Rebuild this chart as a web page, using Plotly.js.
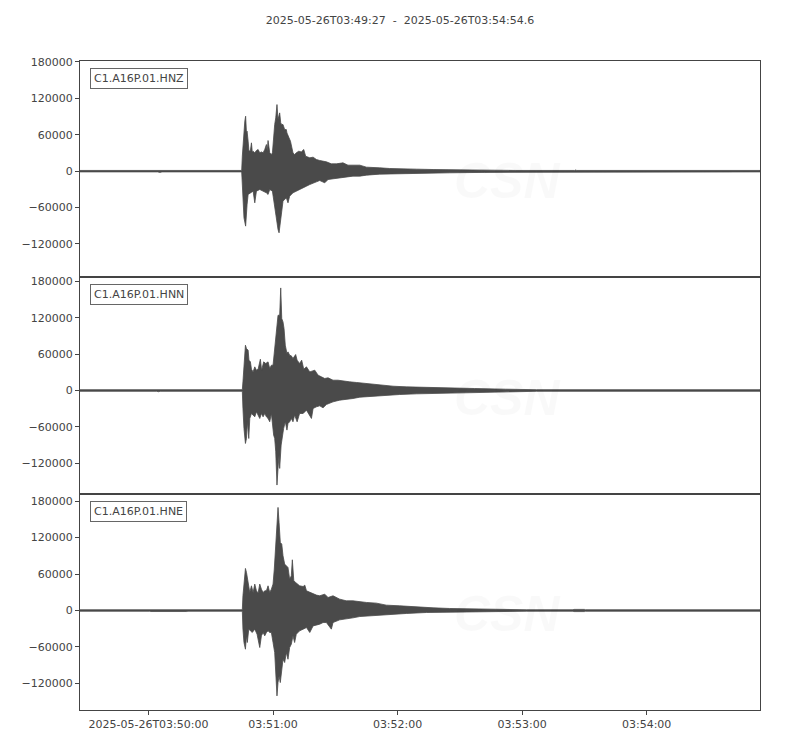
<!DOCTYPE html>
<html>
<head>
<meta charset="utf-8">
<script src="https://cdn.plot.ly/plotly-3.0.1.min.js"></script>
<style>html,body{margin:0;padding:0;background:#fff;}#chart{width:800px;height:750px;}</style>
</head>
<body>
<div id="chart"></div>
<script>
// ---- data (seconds after 2025-05-26T03:49:27, counts) ----
const channels = ['C1.A16P.01.HNZ', 'C1.A16P.01.HNN', 'C1.A16P.01.HNE'];

// HNZ envelope
const zUpT = [0,37.5,38.5,39.5,77.9,78.2,79.0,79.4,79.8,80.2,80.5,81.0,81.4,82.1,82.6,83.0,83.4,84.2,85.0,85.8,86.6,87.4,88.2,89.0,89.8,90.2,90.6,91.4,92.2,92.7,93.3,93.8,94.3,94.9,95.4,95.9,96.2,96.7,97.2,97.8,98.6,99.4,99.7,100.7,101.4,102.6,103.4,104.2,105.4,106.6,107.8,108.7,110.7,112.3,113.9,115.5,117.1,118.7,121.1,123.5,126.7,129.1,131.5,134.8,138.0,141.2,144.4,149.2,154.0,162.1,170.1,178.1,195,210,238.3,238.8,239.3,327.6];
const zUp = [1200,1200,2000,1200,1200,24700,71400,82400,90600,63100,65900,49400,32900,34000,46700,31800,32900,30200,34000,35700,30200,31800,30200,35700,43900,32900,50500,30200,27500,30200,60400,76900,87800,109800,85100,93300,96100,79600,76900,76900,68600,68600,63100,54900,49400,30200,27500,30200,32900,31800,35700,24700,22000,23100,19200,17600,16500,15400,12100,12100,13700,9900,9900,9900,6600,6600,5500,4400,4400,3300,2700,2200,2000,1200,1200,2000,1200,1200];
const zLoT = [0,37.5,38.5,39.5,77.9,78.2,79.0,79.8,80.5,81.0,81.8,83.4,84.2,85.0,86.6,88.2,89.8,90.6,91.4,92.7,93.6,94.6,95.4,95.9,96.5,97.2,97.8,98.6,99.4,100.2,101.0,102.6,104.2,105.8,107.5,109.1,110.7,112.3,113.9,115.5,117.9,119.5,121.9,125.1,128.3,131.5,134.8,138.0,144.4,150.8,157.2,166.9,178.1,195,210,238.3,238.8,239.3,327.6];
const zLo = [-1200,-1200,-2000,-1200,-1200,-32900,-76900,-90600,-54900,-38400,-35700,-32900,-52200,-32900,-30200,-32900,-35700,-38400,-30200,-32900,-54900,-76900,-96100,-101600,-82400,-65900,-49400,-46700,-43900,-52200,-41200,-35700,-32900,-30200,-27500,-24700,-22000,-19200,-17600,-15400,-19200,-13700,-12100,-11000,-9900,-8200,-8200,-6600,-4900,-4400,-3800,-3300,-2700,-2000,-1200,-1200,-2000,-1200,-1200];

// HNN envelope
const nUpT = [0,37.0,37.8,38.6,78.2,78.5,79.0,79.7,80.2,81.0,81.4,82.1,82.6,83.4,84.2,85.0,85.8,86.9,87.5,88.5,89.5,90.6,91.4,92.2,93.0,93.8,94.3,94.9,95.4,96.2,96.7,97.2,97.8,98.3,98.9,99.7,100.2,101.0,101.8,102.6,103.9,104.6,105.8,106.8,107.8,109.1,110.7,113.1,114.7,116.3,117.9,119.5,121.9,124.3,126.7,129.9,133.2,138.0,144.4,150.8,157.2,166.9,178.1,190,205,220,327.6];
const nUp = [1300,1300,2000,1300,1300,14300,41700,74700,69200,66400,50000,47200,35100,30700,39000,33500,35100,51600,33500,47200,44500,47200,36200,41700,41700,69200,96600,107600,124100,124100,169100,118600,113100,102100,74700,60900,63700,58200,57100,52700,59300,50000,44500,50000,35100,39000,30700,33500,25300,22500,19800,20900,17000,17000,15400,14300,13200,11500,8800,7100,6000,4900,4400,3300,2200,1300,1300];
const nLoT = [0,37.0,37.8,38.6,78.2,78.5,79.0,79.7,80.2,80.6,81.3,81.8,82.6,83.4,84.2,85.0,85.8,86.6,87.4,88.2,89.0,89.8,90.6,91.4,92.2,93.3,93.8,94.3,94.9,95.4,95.9,96.2,96.9,97.5,98.1,98.9,99.7,100.2,101.0,101.8,102.6,103.4,104.6,105.8,107.5,109.1,111.5,112.3,113.9,115.5,117.1,118.7,120.3,121.9,125.1,128.3,131.5,134.8,141.2,147.6,154.0,162.1,170.1,178.1,190,205,220,327.6];
const nLo = [-1300,-1300,-2000,-1300,-1300,-29600,-62600,-87300,-79100,-51600,-79100,-46100,-37900,-40600,-43400,-35100,-40600,-46100,-37900,-43400,-37900,-43400,-46100,-51600,-37900,-73600,-79100,-101000,-155900,-128500,-106500,-128500,-90000,-73600,-62600,-51600,-65300,-54400,-51600,-46100,-51600,-40600,-51600,-37900,-37900,-32400,-46100,-29600,-26900,-25300,-28500,-23100,-21400,-18700,-15900,-14300,-13200,-11000,-8800,-7700,-6600,-5500,-4400,-3800,-3000,-2200,-1300,-1300];

// HNE envelope
const eUpT = [0,33.5,34.0,51.4,52.0,78.2,78.5,79.0,79.7,80.2,80.6,81.3,81.8,82.6,83.4,84.2,85.0,85.8,86.6,87.4,88.2,89.0,89.8,90.6,91.4,92.2,93.0,93.6,94.3,94.9,95.4,95.9,96.5,97.2,97.8,98.6,99.4,100.2,101.0,101.8,102.3,103.0,103.9,105.0,105.8,107.5,108.3,109.1,110.7,112.3,113.9,115.5,117.9,119.5,121.9,125.1,128.3,131.5,134.8,138.0,142.8,147.6,154.0,162.1,170.1,178.1,190,200,215,237.5,238.0,243.0,243.5,327.6];
const eUp = [1200,1200,1700,1700,1200,1200,24200,46100,69200,62600,54400,40600,29600,40600,29600,43400,32400,28500,43400,35100,29600,32400,32400,40600,29600,35100,43400,68100,106500,123000,169600,144900,112000,109200,90000,76300,73600,70800,51600,57100,83400,48900,46100,43400,40600,39500,41700,32400,29600,26900,25300,24200,26900,21400,24200,18700,15900,15900,14300,13200,12100,8800,7700,5500,4400,3300,2500,2000,1200,1200,1800,1800,1200,1200];
const eLoT = [0,33.5,34.0,51.4,52.0,78.2,78.5,79.0,79.7,80.2,80.6,81.3,82.1,83.0,84.2,85.3,86.6,87.4,88.2,89.0,89.8,90.6,91.4,92.2,93.0,93.8,94.3,94.9,95.4,95.9,96.5,97.2,97.8,98.6,99.4,100.2,101.0,101.8,102.6,103.4,104.2,105.8,107.5,109.1,110.7,112.3,113.9,115.5,117.1,118.7,121.1,121.9,125.1,128.3,131.5,134.8,138.0,144.4,150.8,157.2,166.9,178.1,190,215,237.5,238.0,243.0,243.5,327.6];
const eLo = [-1200,-1200,-1700,-1700,-1200,-1200,-30700,-52700,-63700,-41700,-52700,-30700,-33500,-36200,-30700,-39000,-60900,-41700,-36200,-41700,-36200,-33500,-36200,-36200,-52700,-69200,-102100,-140500,-118600,-107600,-118600,-96600,-80200,-85600,-69200,-80200,-60900,-55400,-41700,-52700,-39000,-33500,-30700,-28000,-36200,-25300,-24200,-22500,-19800,-19800,-30700,-19800,-15400,-13200,-12100,-9900,-8800,-7700,-6000,-4900,-3300,-2200,-2000,-1200,-1200,-1800,-1800,-1200,-1200];

// ticks
const xTickVals = ['2025-05-26 03:50:00','2025-05-26 03:51:00','2025-05-26 03:52:00','2025-05-26 03:53:00','2025-05-26 03:54:00'];
const xTickText = ['2025-05-26T03:50:00','03:51:00','03:52:00','03:53:00','03:54:00'];
const yTickVals = [-120000,-60000,0,60000,120000,180000];
const yTickText = ['\u2212120000','\u221260000','0','60000','120000','180000'];
const titleText = '2025-05-26T03:49:27 \u00a0-\u00a0 2025-05-26T03:54:54.6';

// ---- drawing ----
const T0 = Date.UTC(2025, 4, 26, 3, 49, 27);
function toDate(t) {
  return new Date(T0 + Math.round(t * 1000)).toISOString().replace('T', ' ').replace('Z', '');
}
const INK = '#4a4a4a';
const AX = '#444444';
function band(tu, u, tl, l, xa, ya) {
  const tlr = tl.slice().reverse(), lr = l.slice().reverse();
  return {
    type: 'scatter', mode: 'lines', xaxis: xa, yaxis: ya,
    x: tu.map(toDate).concat(tlr.map(toDate)),
    y: u.concat(lr),
    fill: 'toself', fillcolor: INK,
    line: {color: INK, width: 0.8}, hoverinfo: 'skip', showlegend: false
  };
}
const data = [
  band(zUpT, zUp, zLoT, zLo, 'x3', 'y3'),
  band(nUpT, nUp, nLoT, nLo, 'x2', 'y2'),
  band(eUpT, eUp, eLoT, eLo, 'x', 'y')
];

const font = {family: 'DejaVu Sans, sans-serif', size: 11, color: AX};
const xRange = [toDate(0), toDate(327.6)];
function xax(anchor, showLabels) {
  const a = {
    type: 'date', range: xRange, anchor: anchor,
    showline: true, mirror: true, linecolor: AX, linewidth: 1,
    showgrid: false, zeroline: false,
    tickmode: 'array', tickvals: xTickVals, ticktext: xTickText,
    ticks: showLabels ? 'outside' : '', ticklen: 4, tickwidth: 1, tickcolor: AX,
    showticklabels: showLabels, tickfont: font, fixedrange: true
  };
  if (anchor !== 'y') a.matches = 'x';
  return a;
}
function yax(domain, range) {
  return {
    domain: domain, range: range,
    showline: true, mirror: true, linecolor: AX, linewidth: 1,
    showgrid: false, zeroline: false,
    tickmode: 'array', tickvals: yTickVals, ticktext: yTickText,
    ticks: 'outside', ticklen: 4, tickwidth: 1, tickcolor: AX,
    tickfont: font, fixedrange: true
  };
}
const yRanges = [[-163700, 192200], [-170100, 186600], [-175000, 181600]];

const annotations = [];
const panelRefs = [['x3', 'y3', 0], ['x2', 'y2', 1], ['x', 'y', 2]];
panelRefs.forEach(([xr, yr, i]) => {
  // faint watermark
  annotations.push({
    xref: xr + ' domain', yref: yr + ' domain', x: 0.628, y: 0.305, yanchor: 'bottom',
    text: '<b><i>CSN</i></b>', showarrow: false,
    font: {family: 'Liberation Sans, sans-serif', size: 50, color: 'rgba(0,0,0,0.025)'}
  });
  annotations.push({
    xref: xr + ' domain', yref: yr + ' domain', x: 0.663, y: 0.29, xanchor: 'left', yanchor: 'top', align: 'left',
    text: '<i>CENTRO SISMOLÓGICO NACIONAL<br>UNIVERSIDAD DE CHILE</i>', showarrow: false,
    font: {family: 'Liberation Sans Narrow, Liberation Sans, sans-serif', size: 13, color: 'rgba(0,0,0,0.025)'}
  });
  // channel label
  annotations.push({
    xref: xr + ' domain', yref: yr + ' domain', x: 0.0147, y: 0.968,
    xanchor: 'left', yanchor: 'top', text: channels[i], showarrow: false,
    font: font, bgcolor: '#ffffff', bordercolor: '#666666', borderwidth: 1, borderpad: 3
  });
});

const layout = {
  width: 800, height: 750,
  margin: {l: 80, r: 40, t: 61, b: 40},
  paper_bgcolor: '#ffffff', plot_bgcolor: '#ffffff',
  font: font, showlegend: false,
  title: {text: titleText, x: 0.5, xref: 'container', xanchor: 'center',
          y: 1 - 20 / 750, yref: 'container', yanchor: 'middle', font: font},
  xaxis: xax('y', true),
  xaxis2: xax('y2', false),
  xaxis3: xax('y3', false),
  yaxis: yax([0, 1 / 3], yRanges[0]),
  yaxis2: yax([1 / 3, 2 / 3], yRanges[1]),
  yaxis3: yax([2 / 3, 1], yRanges[2]),
  annotations: annotations
};

Plotly.newPlot('chart', data, layout, {staticPlot: true, displayModeBar: false});
</script>
</body>
</html>
